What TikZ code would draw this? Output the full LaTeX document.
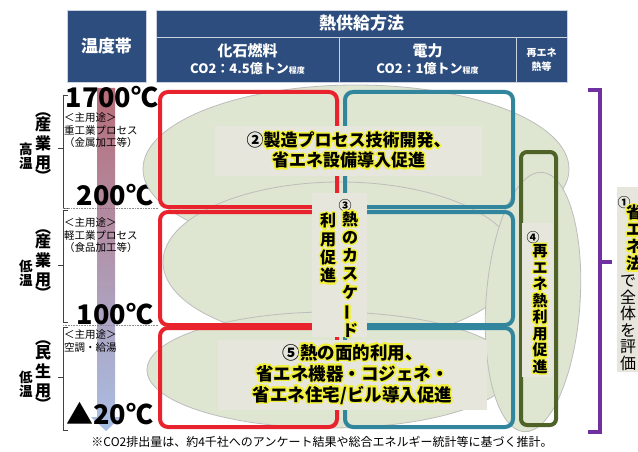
\documentclass[tikz,border=0pt]{standalone}
\usepackage{fontspec}
\setmainfont{Noto Sans CJK JP}
\usepackage{contour}
\contourlength{1.4pt}
\contournumber{24}
\definecolor{glowc}{HTML}{F2F03A}
\definecolor{hdrblue}{HTML}{2C4D7D}
\definecolor{ellfill}{HTML}{DEE5D0}
\definecolor{ellline}{HTML}{BDBDBD}
\definecolor{boxfill}{HTML}{E7E6DD}
\definecolor{myred}{HTML}{E8232D}
\definecolor{myblue}{HTML}{31859C}
\definecolor{mygreen}{HTML}{4F6228}
\definecolor{mypurple}{HTML}{7030A0}
\definecolor{arrtop}{HTML}{A03C4B}
\definecolor{arrmid}{HTML}{966E8C}
\definecolor{arrbot}{HTML}{8CAADC}
\newcommand{\glw}[1]{\contour{glowc}{#1}}
\newcommand{\fsz}[2]{\fontsize{#1pt}{#2pt}\selectfont}
\begin{document}
\begin{tikzpicture}[x=1pt,y=-1pt,
  hcell/.style={fill=hdrblue, draw=white!75!hdrblue, line width=0.8pt, text=white, inner sep=0pt, align=center},
  ell/.style={fill=ellfill, draw=ellline, line width=0.8pt},
  tbox/.style={fill=boxfill, draw=none, inner sep=0pt, align=center},
  redr/.style={draw=myred, line width=4pt, rounded corners=8pt},
  bluer/.style={draw=myblue, line width=4pt, rounded corners=8pt},
  greenr/.style={draw=mygreen, line width=4pt, rounded corners=6pt},
  temp/.style={font=\bfseries\fsz{27}{27}, inner sep=0pt},
  use/.style={font=\fsz{10.5}{12.5}, inner sep=0pt, align=left, anchor=north west},
  vlab/.style={font=\bfseries\fsz{16}{19}, inner sep=0pt, align=center},
  vlabs/.style={font=\bfseries\fsz{13.5}{14.5}, inner sep=0pt, align=center},
  brk/.style={draw=black!75, line width=0.8pt},
  sep/.style={draw=black!45, line width=0.6pt, densely dotted},
  mtext/.style={font=\bfseries\fsz{17}{20}, inner sep=0pt, align=center},
  vt/.style={font=\bfseries\fsz{16}{18.3}, inner sep=0pt, align=center},
  circ/.style={font=\bfseries\fsz{13}{13}, inner sep=0pt}
]
\useasboundingbox (0,0) rectangle (638,452);
\fill[white] (0,0) rectangle (638,452);

% ---------- header ----------
\node[hcell, minimum width=79pt, minimum height=72pt, font=\bfseries\fsz{17}{20}] (hTemp) at (106.5,46) {温度帯};
\node[hcell, minimum width=411pt, minimum height=27pt, font=\bfseries\fsz{17}{20}] (hHeat) at (361.5,23.5) {熱供給方法};
\node[hcell, minimum width=183pt, minimum height=45pt, font=\bfseries\fsz{15}{17}] (hFos) at (247.5,59.5) {化石燃料\\{\fsz{13}{17}CO2：4.5億トン{\fsz{8}{8}程度}}};
\node[hcell, minimum width=177pt, minimum height=45pt, font=\bfseries\fsz{15}{17}] (hEle) at (427.5,59.5) {電力\\{\fsz{13}{17}CO2：1億トン{\fsz{8}{8}程度}}};
\node[hcell, minimum width=51pt, minimum height=45pt, font=\bfseries\fsz{10}{14}] (hRen) at (541.5,59.5) {再エネ\\熱等};

% ---------- left brackets ----------
\draw[brk] (68,95) -- (63,95) -- (63,208) -- (68,208);
\draw[brk] (63,148) -- (58,148);
\draw[brk] (68,210) -- (63,210) -- (63,322) -- (68,322);
\draw[brk] (63,265) -- (58,265);
\draw[brk] (68,327) -- (63,327) -- (63,430) -- (68,430);
\draw[brk] (63,377) -- (58,377);
\draw[sep] (63,208) -- (158,208);
\draw[sep] (63,325) -- (158,325);

% ---------- vertical left labels ----------
\node[vlabs] (lv1a) at (26,156) {高\\温};
\node[vlab] (lv1b) at (43,148) {︵\\[-5pt]産\\業\\用\\[-5pt]︶};
\node[vlabs] (lv2a) at (26,273) {低\\温};
\node[vlab] (lv2b) at (43,265) {︵\\[-5pt]産\\業\\用\\[-5pt]︶};
\node[vlabs] (lv3a) at (26,384) {低\\温};
\node[vlab] (lv3b) at (43,376) {︵\\[-5pt]民\\生\\用\\[-5pt]︶};

% ---------- temperature arrow ----------
\shade[top color=arrtop, middle color=arrmid, bottom color=arrbot, opacity=0.75]
  (97,88) -- (115,88) -- (115,417) -- (121,417) -- (106,431) -- (91,417) -- (97,417) -- cycle;

% ---------- temperature labels ----------
\node[temp] (t1700) at (112,97) {1700℃};
\node[temp] (t200) at (115,195) {200℃};
\node[temp] (t100) at (115,314) {100℃};
\node[temp] (t20) at (110,414) {▲20℃};
\node[use] (u1) at (64,113) {＜主用途＞\\重工業プロセス\\（金属加工等）};
\node[use] (u2) at (64,218) {＜主用途＞\\軽工業プロセス\\（食品加工等）};
\node[use] (u3) at (64,330) {＜主用途＞\\空調・給湯};

% ---------- ellipses ----------
\draw[ell] (356,169) ellipse [x radius=213pt, y radius=84pt];
\draw[ell] (340,262) ellipse [x radius=177pt, y radius=80pt];
\draw[ell] (330,370) ellipse [x radius=183pt, y radius=58pt];
\draw[ell, rotate around={-4:(533,302)}] (533,302) ellipse [x radius=47pt, y radius=130pt];

% ---------- rounded frames ----------
\draw[redr] (160,92) rectangle (337,207);
\draw[redr] (160,212) rectangle (337,325);
\draw[redr] (160,328) rectangle (337,427);
\draw[bluer] (345,92) rectangle (513,207);
\draw[bluer] (345,212) rectangle (513,325);
\draw[bluer] (345,328) rectangle (513,427);
\draw[greenr] (521,152) rectangle (556,425);

% ---------- purple bracket ----------
\draw[draw=mypurple, line width=3.5pt] (588,90) -- (600,90) -- (600,432) -- (588,432);
\draw[draw=mypurple, line width=3.5pt] (600,262) -- (612,262);

% ---------- text boxes ----------
\node[tbox, minimum width=267pt, minimum height=50pt, mtext] (b2) at (348.5,151) {②\glw{製造プロセス技術開発、}\\\glw{省エネ設備導入促進}};
\node[tbox, minimum width=55pt, minimum height=144pt] (b3) at (339.5,265) {};
\node[tbox, minimum width=269pt, minimum height=70pt, font=\bfseries\fsz{17.5}{21}] (b5) at (352.5,375) {⑤\glw{熱の面的利用、}\\\glw{省エネ機器・コジェネ・}\\\glw{省エネ住宅/ビル導入促進}};
\node[tbox, minimum width=31pt, minimum height=154pt] (b4) at (537.5,300) {};
\node[tbox, minimum width=23pt, minimum height=185pt] (b1) at (628.5,279.5) {};

% ---------- (3) vertical text ----------
\node[circ] (c3) at (345,206) {③};
\node[vt] (v3a) at (350,275) {\glw{熱}\\\glw{の}\\\glw{カ}\\\glw{ス}\\\glw{ケ}\\\glw{\rotatebox[origin=c]{90}{ー}}\\\glw{ド}};
\node[vt] (v3b) at (328,249) {\glw{利}\\\glw{用}\\\glw{促}\\\glw{進}};

% ---------- (4) vertical text ----------
\node[circ] (c4) at (533,238) {④};
\node[vt, font=\bfseries\fsz{15}{16.5}] (v4) at (540,310) {\glw{再}\\\glw{エ}\\\glw{ネ}\\\glw{熱}\\\glw{利}\\\glw{用}\\\glw{促}\\\glw{進}};

% ---------- (1) vertical text ----------
\node[circ] (c1) at (624,203) {①};
\node[vt, font=\bfseries\fsz{16}{17}] (v1a) at (634,239) {\glw{省}\\\glw{エ}\\\glw{ネ}\\\glw{法}};
\node[vt, font=\fsz{16}{16.5}] (v1b) at (628,323) {で\\全\\体\\を\\評\\価};

% ---------- footnote ----------
\node[inner sep=0pt, font=\fsz{12}{14}] (fn) at (322,442) {※CO2排出量は、約4千社へのアンケート結果や総合エネルギー統計等に基づく推計。};
\end{tikzpicture}
\end{document}
